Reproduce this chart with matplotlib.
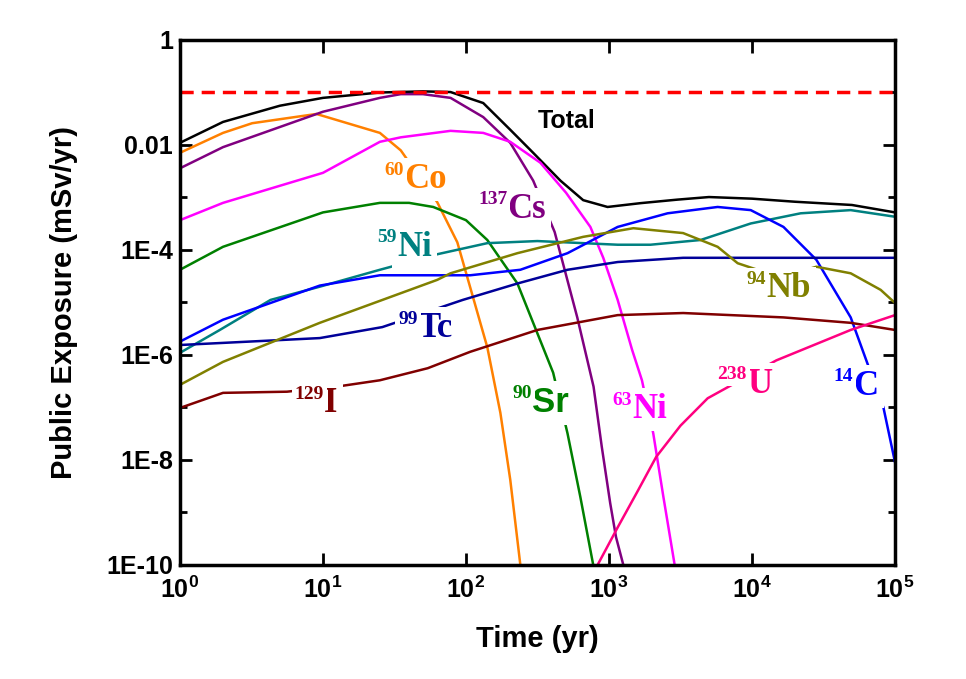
import numpy as np
import matplotlib
matplotlib.use('Agg')
import matplotlib.pyplot as plt
from matplotlib.ticker import FixedLocator, FixedFormatter, NullFormatter

# Datos (t en anos, dosis en mSv/yr)
total_t = [1, 2, 5, 10, 25, 50, 78, 132, 204, 295, 457, 660, 977, 1660, 3000, 5000, 10000, 20000, 50000, 100000]
total_v = [1.1e-2, 2.75e-2, 5.6e-2, 7.9e-2, 1.0e-1, 1.05e-1, 1.02e-1, 6.3e-2, 1.95e-2, 7.1e-3, 2.1e-3,
           8.9e-4, 6.6e-4, 7.8e-4, 9.1e-4, 1.02e-3, 9.5e-4, 8.3e-4, 7.2e-4, 5.2e-4]

cs137_t = [1, 2, 10, 25, 35, 50, 78, 132, 204, 295, 417, 600, 780, 890, 1020, 1120, 1260]
cs137_v = [3.6e-3, 9.1e-3, 4.3e-2, 7.9e-2, 9.3e-2, 9.3e-2, 7.9e-2, 3.4e-2, 1.1e-2, 2.1e-3, 2.2e-4, 5.2e-6,
           2.5e-7, 1.8e-8, 1.5e-9, 3.4e-10, 1e-10]

co60_t = [1, 2, 3.2, 9, 25, 35, 63, 87, 112, 141, 174, 204, 240]
co60_v = [7.1e-3, 1.7e-2, 2.6e-2, 3.9e-2, 1.7e-2, 7.9e-3, 8.1e-4, 1.4e-4, 1.26e-5, 1.4e-6, 7.9e-8, 4.2e-9, 1e-10]

ni63_t = [1, 2, 10, 25, 35, 78, 132, 204, 331, 501, 741, 912, 1150, 1450, 1700, 2040, 2400, 2880]
ni63_v = [3.7e-4, 7.9e-4, 2.95e-3, 1.15e-2, 1.4e-2, 1.86e-2, 1.7e-2, 1.15e-2, 4.6e-3, 1.23e-3, 2.75e-4,
          7.1e-5, 1.12e-5, 1.26e-6, 3.3e-7, 3.2e-8, 2e-9, 1e-10]

sr90_t = [1, 2, 10, 25, 40, 59, 100, 141, 229, 407, 513, 630, 776]
sr90_v = [4.2e-5, 1.15e-4, 5.2e-4, 7.9e-4, 7.9e-4, 6.6e-4, 3.7e-4, 1.55e-4, 2.3e-5, 4.6e-7, 3.2e-8, 2e-9, 1e-10]

ni59_t = [1, 1.9, 4.3, 9.5, 25, 63, 141, 316, 1150, 1950, 4370, 9800, 21900, 49000, 100000]
ni59_v = [1.1e-6, 3.0e-6, 1.12e-5, 2.0e-5, 4.2e-5, 8.3e-5, 1.35e-4, 1.48e-4, 1.26e-4, 1.26e-4,
          1.55e-4, 3.2e-4, 5.0e-4, 5.75e-4, 4.3e-4]

c14_t = [1, 2, 4.3, 9.5, 25, 107, 240, 513, 1150, 2570, 5750, 9800, 16600, 28200, 49000, 83000, 100000]
c14_v = [1.8e-6, 4.7e-6, 9.8e-6, 2.1e-5, 3.3e-5, 3.3e-5, 4.2e-5, 8.7e-5, 2.75e-4, 5.0e-4, 6.6e-4,
         5.75e-4, 2.75e-4, 6.5e-5, 5.2e-6, 1.0e-7, 9.1e-9]

tc99_t = [1, 2, 9.5, 26, 95, 229, 513, 1150, 3300, 100000]
tc99_v = [1.55e-6, 1.7e-6, 2.1e-6, 3.4e-6, 1.12e-5, 2.3e-5, 4.2e-5, 5.9e-5, 7.1e-5, 7.1e-5]

nb94_t = [1, 2, 9.5, 63, 78, 229, 660, 1480, 3300, 5750, 7940, 15800, 28200, 49000, 79400, 100000]
nb94_v = [2.7e-7, 7.4e-7, 4.1e-6, 2.7e-5, 3.6e-5, 8.7e-5, 1.78e-4, 2.6e-4, 2.1e-4, 1.15e-4, 5.6e-5,
          3.0e-5, 4.8e-5, 3.6e-5, 1.74e-5, 9.8e-6]

i129_t = [1, 2, 5.6, 13.8, 25, 54, 107, 316, 1150, 3300, 16600, 49000, 100000]
i129_v = [9.8e-8, 1.9e-7, 2.0e-7, 2.6e-7, 3.3e-7, 5.6e-7, 1.15e-6, 3.0e-6, 5.75e-6, 6.3e-6, 5.2e-6,
          4.1e-6, 3.0e-6]

u238_t = [832, 1150, 1580, 2140, 3160, 4900, 14800, 49000, 100000]
u238_v = [1e-10, 5.2e-10, 2.5e-9, 1.15e-8, 4.5e-8, 1.5e-7, 7.9e-7, 3.0e-6, 5.75e-6]

limit = 0.1

plt.rcParams['mathtext.fontset'] = 'custom'
plt.rcParams['mathtext.rm'] = 'Liberation Sans:bold'
plt.rcParams['mathtext.bf'] = 'Liberation Sans:bold'
sans = 'Liberation Sans'

fig = plt.figure(figsize=(9.66, 6.79), dpi=100)
ax = fig.add_axes([0.1863, 0.1679, 0.7402, 0.7732])

curvas = [
    (total_t, total_v, 'black'),
    (co60_t, co60_v, '#FF8000'),
    (cs137_t, cs137_v, '#800080'),
    (ni63_t, ni63_v, '#FF00FF'),
    (sr90_t, sr90_v, '#008000'),
    (ni59_t, ni59_v, '#008080'),
    (c14_t, c14_v, '#0000FF'),
    (tc99_t, tc99_v, '#000099'),
    (nb94_t, nb94_v, '#808000'),
    (i129_t, i129_v, '#800000'),
    (u238_t, u238_v, '#FF0080'),
]
for t, v, c in curvas:
    ax.plot(t, v, color=c, lw=1.8)

ax.axhline(limit, color='red', lw=2.5, ls=(0, (3.8, 2.3)))

ax.set_xscale('log')
ax.set_yscale('log')
ax.set_xlim(1, 1e5)
ax.set_ylim(1e-10, 1)

# Etiquetas de los nuclidos
caja = dict(boxstyle='square,pad=0.15', fc='white', ec='none')

def etiqueta(x, y, masa, simbolo, color, fam='Liberation Serif'):
    txt = ax.text(x, y, simbolo, color=color, fontsize=25, fontweight='bold',
                  family=fam, ha='left', va='baseline', bbox=caja)
    ax.annotate(masa, xy=(0, 1), xycoords=txt, xytext=(0, 1), textcoords='offset points',
                ha='right', va='top', color=color, fontsize=14, fontweight='bold',
                family='Liberation Serif', bbox=caja)

etiqueta(37, 1.5e-3, '60', 'Co', '#FF8000')
etiqueta(195, 4.1e-4, '137', 'Cs', '#800080')
etiqueta(33, 7.8e-5, '59', 'Ni', '#008080')
etiqueta(46, 2.2e-6, '99', 'Tc', '#000099')
etiqueta(10.2, 8.1e-8, '129', 'I', '#800000')
etiqueta(290, 8.1e-8, '90', 'Sr', '#008000', fam=sans)
etiqueta(1450, 6.3e-8, '63', 'Ni', '#FF00FF')
etiqueta(9200, 1.9e-7, '238', 'U', '#FF0080')
etiqueta(51000, 1.74e-7, '14', 'C', '#0000FF')
etiqueta(12600, 1.26e-5, '94', 'Nb', '#808000')
ax.text(316, 2.1e-2, 'Total', fontsize=18, fontweight='bold', family=sans,
        ha='left', va='baseline')

# Ejes
ax.xaxis.set_major_locator(FixedLocator([10.0 ** k for k in range(6)]))
ax.xaxis.set_major_formatter(FixedFormatter([r'$\mathrm{10^{%d}}$' % k for k in range(6)]))
ax.xaxis.set_minor_locator(FixedLocator([]))
ax.yaxis.set_major_locator(FixedLocator([10.0 ** k for k in range(-10, 1, 2)]))
ax.yaxis.set_major_formatter(FixedFormatter(['1E-10', '1E-8', '1E-6', '1E-4', '0.01', '1']))
ax.yaxis.set_minor_locator(FixedLocator([10.0 ** k for k in range(-9, 0, 2)]))
ax.yaxis.set_minor_formatter(NullFormatter())

ax.tick_params(axis='both', which='both', direction='in', top=True, right=True, width=2)
ax.tick_params(axis='x', which='major', length=9, labelsize=18, pad=8)
ax.tick_params(axis='y', which='major', length=8.5, labelsize=18, pad=5)
ax.tick_params(axis='y', which='minor', length=5)
for lab in ax.get_yticklabels():
    lab.set_family(sans)
    lab.set_fontweight('bold')
for s in ax.spines.values():
    s.set_linewidth(2.5)

ax.set_xlabel('Time (yr)', fontsize=21, fontweight='bold', family=sans, labelpad=16)
ax.set_ylabel('Public Exposure (mSv/yr)', fontsize=21, fontweight='bold', family=sans, labelpad=20)

plt.savefig('out.png', dpi=100)
plt.close()
